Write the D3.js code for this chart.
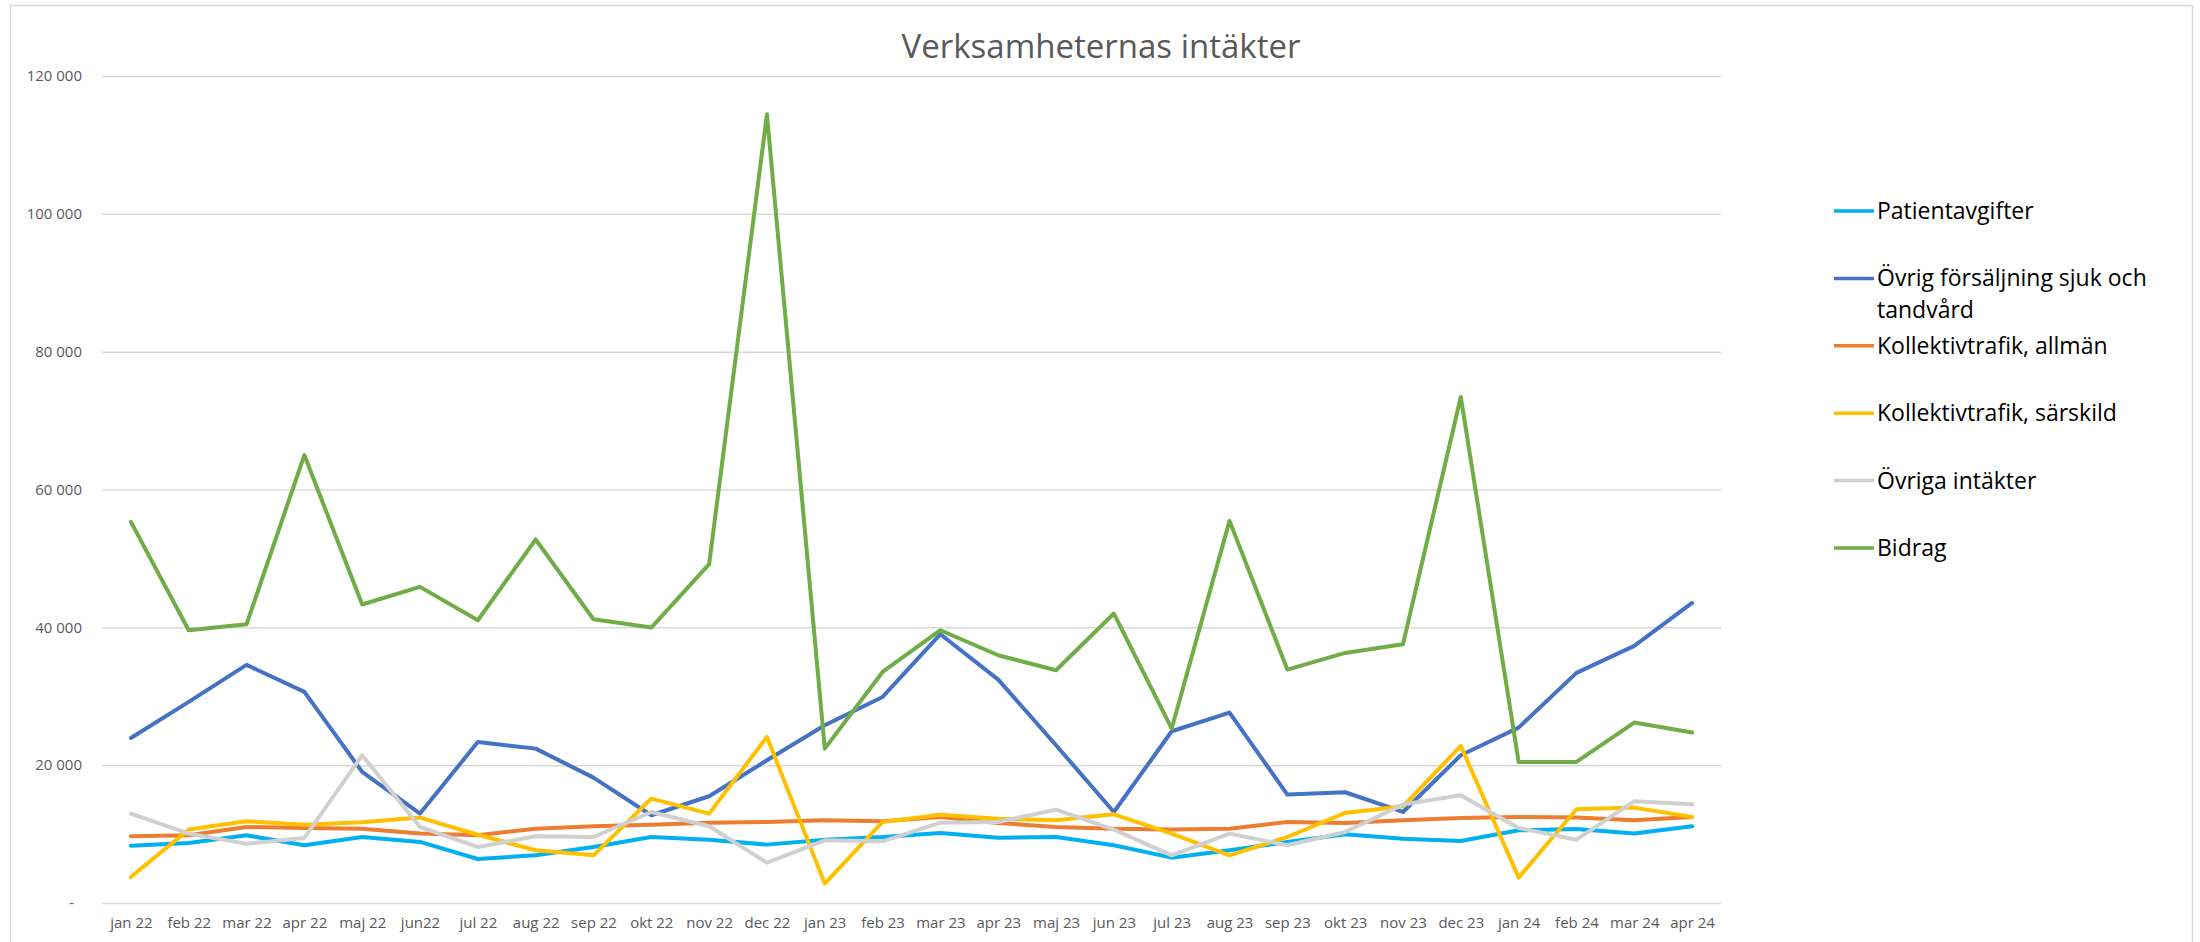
<!DOCTYPE html>
<html lang="sv">
<head>
    <meta charset="UTF-8">
    <title>Verksamheternas intäkter</title>
    <style>
        body {
            margin: 0;
            padding: 0;
            background-color: #fff;
        }
        svg text {
            font-family: "Open Sans", "Noto Sans", sans-serif;
        }
    </style>
</head>
<body>
    <div id="chart"></div>
    <script src="https://d3js.org/d3.v7.min.js"></script>
    <script>
        const months = ["jan 22", "feb 22", "mar 22", "apr 22", "maj 22", "jun22", "jul 22", "aug 22", "sep 22", "okt 22", "nov 22", "dec 22",
            "jan 23", "feb 23", "mar 23", "apr 23", "maj 23", "jun 23", "jul 23", "aug 23", "sep 23", "okt 23", "nov 23", "dec 23",
            "jan 24", "feb 24", "mar 24", "apr 24"];

        const seriesNames = ["Patientavgifter", "Övrig försäljning sjuk och tandvård", "Kollektivtrafik, allmän",
            "Kollektivtrafik, särskild", "Övriga intäkter", "Bidrag"];
        const seriesColors = ["#00B0F0", "#4472C4", "#ED7D31", "#FFC000", "#D0D0D0", "#70AD47"];

        const patientavgifter = [8320, 8710, 9820, 8370, 9580, 8860, 6390, 6920, 8130, 9580, 9190, 8470,
            9190, 9580, 10160, 9480, 9580, 8370, 6580, 7650, 8860, 9970, 9340, 9000, 10550, 10740, 10070, 11130];
        const ovrigForsaljning = [23950, 29180, 34550, 30630, 19020, 12970, 23370, 22400, 18190, 12730, 15490, 20710,
            25790, 29900, 39000, 32420, 22890, 13210, 24920, 27630, 15730, 16070, 13210, 21440, 25450, 33390, 37310, 43550];
        const kollektivAllman = [9680, 9820, 11030, 10890, 10790, 10070, 9820, 10790, 11130, 11370, 11660, 11760,
            12000, 11860, 12480, 11610, 11030, 10790, 10650, 10790, 11760, 11610, 12000, 12340, 12480, 12390, 12000, 12480];
        const kollektivSarskild = [3770, 10650, 11860, 11370, 11710, 12390, 9900, 7650, 6920, 15150, 12970, 24100,
            2810, 11760, 12820, 12240, 12000, 12870, 10070, 6920, 9580, 13070, 14030, 22790, 3680, 13600, 13840, 12480];
        const ovrigaIntakter = [12970, 10070, 8610, 9440, 21440, 11030, 8130, 9680, 9580, 13210, 11130, 5860,
            9100, 8950, 11660, 11760, 13550, 10650, 6920, 10070, 8370, 10310, 14280, 15630, 10890, 9190, 14760, 14320];
        const bidrag = [55310, 39580, 40450, 65000, 43310, 45870, 41030, 52750, 41180, 39970, 49160, 114440,
            22400, 33530, 39580, 35950, 33780, 42000, 25310, 55450, 33870, 36290, 37550, 73420, 20470, 20470, 26180, 24730];

        const seriesValues = [patientavgifter, ovrigForsaljning, kollektivAllman, kollektivSarskild, ovrigaIntakter, bidrag];
        const yTicks = [0, 20000, 40000, 60000, 80000, 100000, 120000];

        const width = 2200;
        const height = 942;
        const plot = { left: 102, right: 1721, top: 76, bottom: 903 };

        const svg = d3.select("#chart")
            .append("svg")
            .attr("width", width)
            .attr("height", height);

        // outer chart border
        svg.append("rect")
            .attr("x", 10.5)
            .attr("y", 5.5)
            .attr("width", 2182)
            .attr("height", 950)
            .attr("fill", "none")
            .attr("stroke", "#D9D9D9")
            .attr("stroke-width", 1.5);

        const xScale = d3.scalePoint().domain(months).range([plot.left, plot.right]).padding(0.5);
        const yScale = d3.scaleLinear().domain([0, 120000]).range([plot.bottom, plot.top]);

        // gridlines + y labels
        const yAxis = d3.axisLeft(yScale)
            .tickValues(yTicks)
            .tickSize(-(plot.right - plot.left))
            .tickPadding(20)
            .tickFormat(d => d === 0 ? "-" : d3.format(",")(d).replace(/,/g, " "));

        const gy = svg.append("g")
            .attr("transform", `translate(${plot.left},0)`)
            .call(yAxis);
        gy.select(".domain").remove();
        gy.selectAll(".tick line").attr("stroke", "#D9D9D9").attr("stroke-width", 1.5);
        gy.selectAll(".tick text")
            .attr("fill", "#595959")
            .style("font-size", "15px")
            .attr("dx", d => d === 0 ? -8 : 0);

        // x labels
        const xAxis = d3.axisBottom(xScale).tickSize(0).tickPadding(14);
        const gx = svg.append("g")
            .attr("transform", `translate(0,${plot.bottom})`)
            .call(xAxis);
        gx.select(".domain").remove();
        gx.selectAll(".tick text")
            .attr("fill", "#595959")
            .style("font-size", "15px");

        // series lines
        const line = d3.line()
            .x((d, i) => xScale(months[i]))
            .y(d => yScale(d));

        seriesValues.forEach((vals, k) => {
            svg.append("path")
                .datum(vals)
                .attr("d", line)
                .attr("fill", "none")
                .attr("stroke", seriesColors[k])
                .attr("stroke-width", 4)
                .attr("stroke-linejoin", "round")
                .attr("stroke-linecap", "round");
        });

        // title
        svg.append("text")
            .attr("x", 1101)
            .attr("y", 58)
            .attr("text-anchor", "middle")
            .attr("fill", "#595959")
            .style("font-size", "33px")
            .text("Verksamheternas intäkter");

        // legend
        const legend = svg.append("g").attr("transform", "translate(1834,211)");
        seriesNames.forEach((name, k) => {
            const row = legend.append("g").attr("transform", `translate(0,${k * 67.4})`);
            row.append("line")
                .attr("x1", 0).attr("x2", 40)
                .attr("y1", 0).attr("y2", 0)
                .attr("stroke", seriesColors[k])
                .attr("stroke-width", 3.5);
            const txt = row.append("text")
                .attr("x", 43)
                .attr("y", 8)
                .attr("fill", "#000")
                .style("font-size", "23px");
            // wrap long names
            const words = name.split(" ");
            let tspan = txt.append("tspan").attr("x", 43);
            let current = [];
            words.forEach(w => {
                current.push(w);
                tspan.text(current.join(" "));
                if (tspan.node().getComputedTextLength() > 310 && current.length > 1) {
                    current.pop();
                    tspan.text(current.join(" "));
                    current = [w];
                    tspan = txt.append("tspan").attr("x", 43).attr("dy", 32).text(w);
                }
            });
        });
    </script>
</body>
</html>
